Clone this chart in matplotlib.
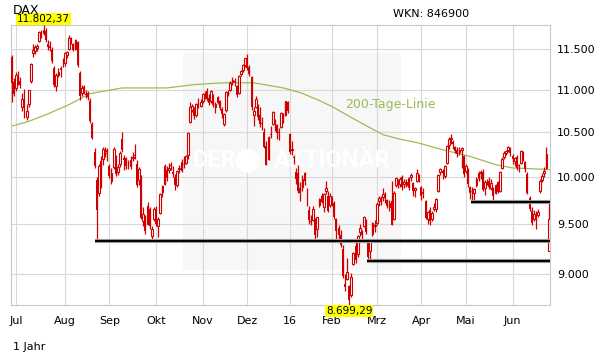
import numpy as np
import matplotlib
matplotlib.use('Agg')
import matplotlib.pyplot as plt
import matplotlib.patheffects as pe
from matplotlib.patches import Rectangle, Ellipse
from matplotlib.ticker import FixedLocator, NullLocator

# DAX daily candles, 29.06.2015 - 27.06.2016, one entry per trading day
opens = [
    11400, 11090, 11020, 11170, 11110, 10800, 10920, 10680, 10830, 11100, 11450, 11470, 11510,
    11600, 11720, 11700, 11730, 11560, 11540, 11480, 11260, 11040, 11180, 11250, 11310,
    11320, 11420, 11500, 11640, 11560, 11500, 11590, 11200, 10960, 11030, 10950, 10960, 10870,
    10600, 10280, 9970, 9830, 10180, 10200, 10290, 10270,
    10120, 9960, 10110, 10230, 10060, 10140, 10420, 10200, 10200, 10150, 10120, 10210, 10240,
    10150, 9970, 10010, 9540, 9560, 9500, 9660, 9380, 9560,
    9660, 9480, 9620, 9840, 9930, 10080, 10080, 10130, 10060, 10000, 9920, 10090, 10080,
    10140, 10160, 10240, 10620, 10760, 10770, 10700, 10880, 10810,
    10860, 10950, 10990, 10900, 10860, 10930, 10790, 10850, 10860, 10770, 10600, 10760, 10960,
    11000, 11090, 11110, 11040, 10960, 11190, 11240, 11300,
    11390, 11270, 11150, 10700, 10800, 10810, 10700, 10610, 10510, 10350, 10200, 10480, 10600,
    10640, 10580, 10500, 10560, 10700, 10700, 10850,
    10480, 10300, 10220, 10060, 10050, 9880, 9900, 10050, 9800, 9650, 9540, 9550, 9550,
    9450, 9700, 9800, 9680, 9850, 9800, 9700,
    9760, 9720, 9560, 9460, 9390, 9250, 8900, 8950, 8880, 8800, 9100, 9280, 9200,
    9420, 9430, 9480, 9550, 9320, 9230, 9400, 9480,
    9510, 9740, 9770, 9790, 9800, 9760, 9680, 9750, 9560, 9920, 9960, 9930, 10000,
    9930, 9920, 9890, 10000, 9940, 9860, 9960, 10020,
    9900, 9840, 9740, 9560, 9650, 9560, 9660, 9660, 9850, 10060, 10070, 10010, 10160,
    10360, 10420, 10390, 10340, 10300, 10280, 10300, 10230,
    10070, 10090, 9900, 9850, 9830, 9920, 9990, 10060, 10060, 9880, 9950, 9960, 9880,
    9880, 9830, 9950, 9850, 10100, 10220, 10270, 10300, 10320,
    10230, 10180, 10220, 10130, 10160, 10270, 10170, 10040, 9780, 9640, 9560, 9600, 9600,
    9850, 9970, 10050, 10100, 9232, 9450,
]
highs = [
    11420, 11140, 11210, 11220, 11150, 10960, 11010, 10830, 11000, 11330, 11560, 11550, 11560,
    11720, 11740, 11802.37, 11760, 11610, 11600, 11520, 11290, 11200, 11260, 11290, 11380,
    11460, 11470, 11670, 11650, 11570, 11620, 11600, 11220, 11060, 11060, 11000, 10990, 10900,
    10620, 10320, 10000, 10150, 10230, 10340, 10330, 10320,
    10150, 10100, 10340, 10250, 10140, 10290, 10500, 10250, 10220, 10190, 10230, 10280, 10370,
    10190, 10110, 10020, 9680, 9600, 9730, 9680, 9480, 9680,
    9690, 9580, 9830, 9920, 10140, 10120, 10160, 10170, 10120, 10040, 10080, 10130, 10200,
    10230, 10250, 10500, 10850, 10830, 10790, 10840, 10900, 10890,
    10960, 10990, 11020, 10950, 11000, 10950, 10850, 10930, 10880, 10800, 10730, 10980, 11000,
    11100, 11150, 11140, 11060, 11180, 11240, 11310, 11390,
    11430, 11300, 11170, 10800, 10920, 10830, 10800, 10680, 10550, 10400, 10460, 10570, 10750,
    10660, 10600, 10550, 10740, 10720, 10870, 10860,
    10490, 10400, 10250, 10100, 10130, 9950, 10030, 10060, 9880, 9690, 9600, 9690, 9570,
    9580, 9780, 9830, 9830, 9960, 9850, 9830,
    9800, 9740, 9570, 9490, 9440, 9290, 9000, 9160, 8890, 9010, 9220, 9320, 9390,
    9500, 9440, 9590, 9560, 9330, 9340, 9520, 9550,
    9730, 9800, 9800, 9880, 9840, 9770, 9760, 9960, 9850, 10000, 9980, 10000, 10030,
    9980, 9980, 10000, 10050, 9950, 9900, 10090, 10040,
    9910, 9880, 9760, 9640, 9680, 9640, 9720, 9780, 10040, 10100, 10090, 10130, 10360,
    10450, 10480, 10410, 10350, 10340, 10340, 10340, 10250,
    10150, 10100, 9910, 9890, 9880, 10000, 10070, 10080, 10090, 9970, 9980, 10000, 9980,
    9900, 9930, 9960, 10070, 10220, 10290, 10300, 10350, 10340,
    10260, 10220, 10240, 10150, 10300, 10290, 10180, 10060, 9800, 9680, 9650, 9640, 9660,
    9980, 10050, 10110, 10340, 9730, 9500,
]
lows = [
    10855, 10930, 10990, 11060, 11020, 10750, 10670, 10640, 10800, 11080, 11400, 11440, 11470,
    11590, 11640, 11680, 11580, 11480, 11470, 11320, 11030, 10990, 11150, 11150, 11270,
    11290, 11380, 11490, 11560, 11470, 11490, 11270, 10880, 10930, 10950, 10900, 10880, 10610,
    10420, 10100, 9330, 9800, 9880, 10130, 10220, 10180,
    9990, 9930, 10090, 10010, 10030, 10110, 10280, 10080, 10090, 10090, 10090, 10180, 10200,
    9900, 9920, 9560, 9480, 9400, 9490, 9450, 9340, 9540,
    9480, 9370, 9610, 9790, 9920, 9960, 10050, 10080, 10000, 9860, 9900, 10050, 10060,
    10100, 10140, 10200, 10610, 10740, 10650, 10680, 10780, 10790,
    10840, 10890, 10870, 10820, 10840, 10790, 10730, 10830, 10760, 10670, 10570, 10740, 10920,
    10990, 11060, 11050, 10910, 10950, 11160, 11210, 11270,
    11240, 11160, 10760, 10570, 10780, 10640, 10560, 10530, 10320, 10130, 10190, 10440, 10580,
    10520, 10420, 10410, 10550, 10610, 10690, 10730,
    10260, 10250, 10150, 9930, 9830, 9740, 9850, 9920, 9690, 9500, 9490, 9540, 9335,
    9370, 9680, 9720, 9630, 9820, 9630, 9680,
    9690, 9560, 9330, 9340, 9270, 8960, 8840, 8940, 8699.29, 8780, 9090, 9110, 9170,
    9380, 9330, 9470, 9400, 9130, 9150, 9380, 9420,
    9490, 9690, 9700, 9740, 9720, 9670, 9640, 9490, 9550, 9900, 9880, 9900, 9860,
    9880, 9900, 9860, 9960, 9800, 9790, 9950, 9950,
    9760, 9780, 9560, 9500, 9490, 9540, 9640, 9630, 9840, 10020, 9980, 9990, 10150,
    10310, 10370, 10310, 10270, 10220, 10240, 10100, 10000,
    10050, 9900, 9770, 9730, 9760, 9890, 9960, 9980, 9850, 9810, 9920, 9870, 9860,
    9760, 9820, 9830, 9840, 10090, 10200, 10240, 10280, 10230,
    10150, 10120, 10080, 10060, 10150, 10180, 10060, 9820, 9640, 9490, 9540, 9450, 9580,
    9830, 9950, 10000, 10090, 9226, 9214,
]
closes = [
    11083, 10945, 11180, 11099, 11058, 10891, 10677, 10747, 10996, 11316, 11484, 11517, 11540,
    11716, 11673, 11735, 11605, 11521, 11512, 11347, 11056, 11174, 11212, 11257, 11309,
    11444, 11456, 11636, 11585, 11491, 11605, 11294, 10925, 11015, 10985, 10940, 10916, 10636,
    10432, 10125, 9648, 10128, 9997, 10316, 10299, 10259,
    10016, 10048, 10318, 10038, 10109, 10271, 10303, 10210, 10124, 10132, 10188, 10227, 10230,
    9916, 10093, 9571, 9613, 9428, 9689, 9484, 9450, 9660,
    9509, 9553, 9815, 9903, 10119, 9993, 10097, 10120, 10033, 9916, 10065, 10104, 10164,
    10148, 10238, 10492, 10795, 10801, 10692, 10832, 10801, 10850,
    10951, 10951, 10887, 10845, 10988, 10815, 10833, 10908, 10783, 10708, 10713, 10971, 10960,
    11085, 11120, 11092, 10934, 11170, 11224, 11294, 11382,
    11261, 11190, 10789, 10752, 10886, 10674, 10592, 10599, 10340, 10139, 10450, 10469, 10738,
    10608, 10498, 10489, 10728, 10654, 10860, 10743,
    10283, 10310, 10214, 9980, 9849, 9825, 9985, 9961, 9794, 9545, 9522, 9664, 9392,
    9574, 9765, 9736, 9823, 9881, 9640, 9798,
    9758, 9581, 9435, 9393, 9286, 8979, 8879, 9017, 8753, 8968, 9207, 9135, 9377,
    9464, 9388, 9574, 9417, 9168, 9331, 9513, 9495,
    9717, 9777, 9752, 9824, 9779, 9693, 9723, 9498, 9831, 9990, 9934, 9983, 9892,
    9951, 9949, 9990, 10023, 9851, 9888, 10047, 9966,
    9795, 9822, 9563, 9625, 9531, 9622, 9683, 9761, 10026, 10094, 10052, 10120, 10350,
    10421, 10436, 10373, 10294, 10260, 10300, 10321, 10039,
    10123, 9927, 9828, 9852, 9870, 9980, 10045, 10036, 9862, 9953, 9953, 9890, 9943,
    9796, 9916, 9842, 10057, 10205, 10273, 10286, 10333, 10263,
    10204, 10208, 10103, 10121, 10288, 10217, 10089, 9835, 9657, 9519, 9607, 9550, 9631,
    9962, 10016, 10071, 10257, 9557, 9269,
]

# first trading day of each month (index into the candles)
month_labels = ['Jul', 'Aug', 'Sep', 'Okt', 'Nov', 'Dez', '16', 'Feb', 'Mrz', 'Apr', 'Mai', 'Jun']
month_starts = [2, 25, 46, 68, 90, 111, 131, 151, 172, 193, 214, 236]

# 200-day line at some trading days
ma200_idx = [0, 8, 17, 27, 37, 43, 52, 73, 86, 93, 103, 114, 119, 128, 136, 144, 151,
             159, 167, 175, 183, 191, 203, 216, 228, 236, 247, 254]
ma200_val = [10572, 10627, 10714, 10823, 10953, 10981, 11021, 11021, 11061, 11073, 11086,
             11082, 11061, 11021, 10965, 10882, 10799, 10686, 10578, 10474, 10423, 10384,
             10305, 10230, 10138, 10102, 10091, 10083]

# horizontal support lines: start day and level
support_from = [40, 168, 217]
support_level = [9330, 9130, 9730]

y_ticks = [9000, 9500, 10000, 10500, 11000, 11500]

RED = '#d00000'
GREEN = '#9cbc55'


def de_int(v):
    return f'{v:,}'.replace(',', '.')


def de_float(v):
    return f'{v:,.2f}'.replace(',', '#').replace('.', ',').replace('#', '.')


fig = plt.figure(figsize=(6.11, 3.64), dpi=100)
ax = fig.add_axes([10.7 / 611, 1 - 305.3 / 364, 539.6 / 611, 280.3 / 364])

n = len(closes)
x = np.arange(n)
o = np.array(opens, dtype=float)
h = np.array(highs, dtype=float)
l = np.array(lows, dtype=float)
c = np.array(closes, dtype=float)

ax.set_yscale('log')
ax.set_ylim(l.min(), h.max())
ax.set_xlim(-0.5, 253.8)

# watermark box with the publisher name
ax.add_patch(Rectangle((0.3193, 0.126), 0.4035, 0.775, transform=ax.transAxes,
                       facecolor='#f7f7f7', edgecolor='none', zorder=0.1))
ax.text(0.336, 0.515, 'DER', transform=ax.transAxes, color='white', fontsize=17,
        fontweight='bold', family='Roboto', ha='left', va='center', zorder=0.6)
ax.add_patch(Ellipse((0.4388, 0.515), 24 / 539.6, 24 / 280.3, transform=ax.transAxes,
                     facecolor='white', edgecolor='none', zorder=0.6))
ax.text(0.703, 0.515, 'AKTIONÄR', transform=ax.transAxes, color='white', fontsize=17,
        fontweight='bold', family='Roboto', ha='right', va='center', zorder=0.6)

# 200-day line
ax.plot(ma200_idx, ma200_val, color=GREEN, lw=0.9, zorder=2)
ax.text(0.6195, 0.717, '200-Tage-Linie', transform=ax.transAxes, color=GREEN,
        fontsize=9, ha='left', va='center')

# candles: hollow = up day, filled = down day
ax.vlines(x, l, h, color=RED, lw=0.9, zorder=3)
up = c >= o
ax.bar(x[up], (c - o)[up], bottom=o[up], width=0.85, facecolor='white',
       edgecolor=RED, linewidth=0.8, zorder=3.5)
ax.bar(x[~up], (o - c)[~up], bottom=c[~up], width=0.9, color=RED, linewidth=0, zorder=3.5)

# support lines
for start, level in zip(support_from, support_level):
    ax.plot([start - 0.8, 260], [level, level], color='black', lw=1.4, zorder=4,
            solid_capstyle='butt',
            path_effects=[pe.Stroke(linewidth=3.0, foreground='#9a9a9a'), pe.Normal()])

# high / low markers
ih = int(np.argmax(h))
il = int(np.argmin(l))
ax.annotate(de_float(h[ih]), xy=(ih, h[ih]), xytext=(0, 0.5), textcoords='offset points',
            ha='center', va='bottom', fontsize=7.5, annotation_clip=False, zorder=6,
            bbox=dict(boxstyle='square,pad=0.08', facecolor='#ffff00', edgecolor='none'))
ax.annotate(de_float(l[il]), xy=(il, l[il]), xytext=(0, -0.5), textcoords='offset points',
            ha='center', va='top', fontsize=7.5, annotation_clip=False, zorder=6,
            bbox=dict(boxstyle='square,pad=0.08', facecolor='#ffff00', edgecolor='none'))

# axes, grid, ticks
ax.set_axisbelow(True)
ax.yaxis.set_major_locator(FixedLocator(y_ticks))
ax.yaxis.set_minor_locator(NullLocator())
ax.set_yticklabels([de_int(v) for v in y_ticks])
ax.yaxis.tick_right()
ax.set_xticks(month_starts)
ax.set_xticklabels(month_labels)
ax.tick_params(axis='both', length=0, labelsize=8, colors='black')
ax.tick_params(axis='y', pad=5)
ax.tick_params(axis='x', pad=8)
ax.grid(True, color='#d8d8d8', lw=0.8)
for s in ax.spines.values():
    s.set_color('#c8c8c8')
    s.set_linewidth(0.8)

# title sits partly behind the yellow high marker, as in the source chart
fig.text(12.7 / 611, 1 - 11 / 364, 'DAX', fontsize=9, ha='left', va='center', zorder=1)
fig.text(393 / 611, 1 - 14 / 364, 'WKN: 846900', fontsize=8, ha='left', va='center')
fig.text(12.5 / 611, 1 - 347 / 364, '1 Jahr', fontsize=8, ha='left', va='center')

fig.savefig('out.png', dpi=100, facecolor='white')
